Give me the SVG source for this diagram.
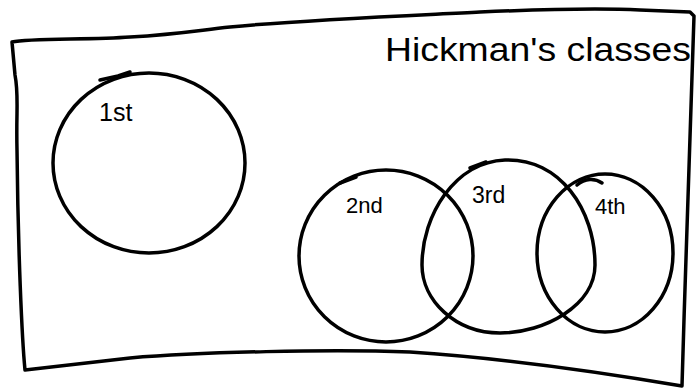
<svg xmlns="http://www.w3.org/2000/svg" width="700" height="392" viewBox="0 0 700 392">
<style>
.ink{fill:none;stroke:#000;stroke-width:3.5;stroke-linecap:round;stroke-linejoin:round}
.lbl{font-family:"Liberation Sans",Arial,sans-serif;fill:#000}
</style>
<rect width="700" height="392" fill="#fff"/>
<g id="frame">
<path class="ink" d="M 12 42 C 30 38, 90 40, 130 37 C 180 34, 200 30, 230 27 C 300 20, 400 16, 480 12 C 550 9, 600 8, 640 10 L 690 12 L 694 16 C 691 100, 686 250, 682 386 C 600 372, 500 358, 410 352 C 330 349, 200 352, 130 358 L 25 370 C 22 340, 18 250, 17 150 C 16 110, 19 95, 15 75 L 12 42 Z"/>
<text class="lbl" x="385" y="61" font-size="34" textLength="306" lengthAdjust="spacingAndGlyphs">Hickman's classes</text>
</g>
<g id="first">
<ellipse class="ink" cx="149" cy="163" rx="96" ry="90"/>
<path class="ink" d="M 100 80 L 118 76 L 130 72"/>
<text class="lbl" x="99" y="121" font-size="25">1st</text>
</g>
<g id="second">
<ellipse class="ink" cx="386" cy="256" rx="87" ry="86"/>
<path class="ink" d="M 340 183 L 356 177"/>
<text class="lbl" x="346" y="213" font-size="22">2nd</text>
</g>
<g id="third">
<path class="ink" d="M 505 160 C 560 158, 595 210, 595 265 C 595 305, 545 333, 500 333 C 455 333, 422 300, 422 265 C 422 215, 455 162, 505 160 Z"/>
<path class="ink" d="M 470 168 L 486 162"/>
<text class="lbl" x="472" y="203" font-size="23">3rd</text>
</g>
<g id="fourth">
<ellipse class="ink" cx="605" cy="253" rx="68" ry="79"/>
<path class="ink" d="M 577 185 C 585 178, 595 178, 602 183"/>
<text class="lbl" x="595" y="214" font-size="22">4th</text>
</g>
<g id="connectors"></g>
</svg>
